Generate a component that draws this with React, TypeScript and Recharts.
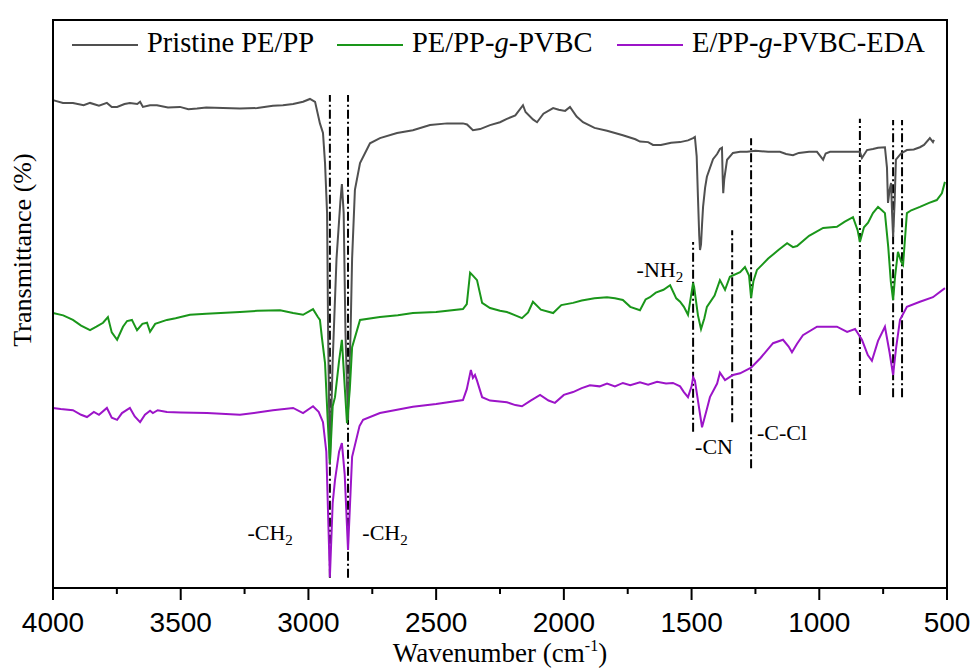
import { LineChart, Line, XAxis, YAxis, ReferenceLine, ReferenceDot } from "recharts";

// wavenumber (cm-1), transmittance (a.u., offset spectra)
const pristine: [number, number][] = [
  [4000, 85.9], [3961, 85.4], [3922, 85.4], [3880, 85.0], [3855, 85.4], [3820, 84.9],
  [3789, 85.4], [3770, 84.7], [3749, 84.7], [3720, 85.2], [3699, 85.4], [3670, 85.2],
  [3659, 85.6], [3648, 84.7], [3620, 85.0], [3593, 85.0], [3550, 84.6], [3503, 84.7],
  [3470, 84.3], [3436, 84.4], [3400, 84.6], [3334, 84.5], [3268, 84.4], [3200, 84.5],
  [3139, 84.9], [3100, 85.0], [3060, 85.2], [3021, 85.6], [2994, 86.1], [2974, 85.6],
  [2955, 81.8], [2943, 80.1], [2935, 74.8], [2927, 66.0], [2923, 45.0], [2916, 21.7],
  [2905, 40.0], [2890, 58.0], [2875, 68.0], [2869, 71.1], [2862, 66.0], [2855, 45.0],
  [2845, 29.6], [2835, 45.0], [2829, 58.0], [2818, 70.1], [2798, 74.8], [2759, 78.3],
  [2720, 79.2], [2653, 80.1], [2591, 80.6], [2524, 81.5], [2457, 81.8], [2395, 81.8],
  [2379, 81.6], [2356, 80.6], [2328, 80.8], [2289, 81.5], [2250, 82.0], [2223, 82.6],
  [2190, 83.2], [2160, 85.0], [2150, 83.8], [2121, 82.5], [2105, 82.0], [2080, 83.5],
  [2042, 84.5], [2020, 84.2], [1995, 84.0], [1976, 84.7], [1950, 83.0], [1925, 82.0],
  [1880, 81.0], [1831, 80.5], [1769, 79.7], [1720, 79.0], [1702, 78.6], [1670, 78.5],
  [1651, 78.0], [1620, 78.0], [1580, 78.4], [1545, 78.5], [1514, 78.8], [1494, 79.2],
  [1487, 79.4], [1480, 76.0], [1475, 68.8], [1470, 62.0], [1467, 59.5], [1463, 60.5],
  [1459, 64.0], [1455, 67.1], [1447, 70.5], [1440, 72.4], [1416, 75.5], [1400, 76.4],
  [1389, 77.3], [1381, 77.5], [1378, 72.0], [1376, 69.5], [1372, 72.0], [1361, 75.4],
  [1338, 76.6], [1310, 76.8], [1283, 76.8], [1250, 77.0], [1200, 76.8], [1154, 76.8],
  [1130, 76.4], [1103, 76.2], [1080, 76.6], [1040, 76.8], [1009, 76.8], [995, 76.0],
  [985, 75.4], [975, 76.5], [958, 76.8], [920, 76.8], [880, 76.8], [841, 76.8],
  [833, 75.7], [813, 77.1], [790, 77.3], [770, 77.5], [743, 77.6], [735, 74.0],
  [731, 67.8], [725, 70.0], [719, 71.3], [715, 66.0], [711, 61.8], [705, 68.0],
  [700, 75.4], [680, 76.5], [657, 77.1], [630, 77.2], [606, 77.6], [590, 78.0],
  [567, 79.2], [555, 78.5], [551, 78.9],
];

const grafted: [number, number][] = [
  [4000, 48.4], [3960, 48.0], [3922, 47.2], [3890, 46.2], [3855, 45.4], [3830, 46.0],
  [3804, 46.7], [3785, 47.7], [3770, 45.0], [3749, 43.7], [3726, 46.0], [3710, 47.0],
  [3691, 47.2], [3680, 46.2], [3671, 45.4], [3650, 46.5], [3632, 46.7], [3620, 45.1],
  [3600, 46.5], [3554, 47.2], [3520, 47.5], [3464, 48.1], [3400, 48.3], [3268, 48.6],
  [3200, 48.8], [3111, 48.9], [3060, 48.4], [3021, 48.1], [2994, 48.8], [2982, 49.1],
  [2963, 47.7], [2955, 47.2], [2947, 44.0], [2935, 39.6], [2925, 30.0], [2916, 22.0],
  [2905, 32.0], [2896, 33.6], [2880, 40.0], [2869, 43.7], [2860, 37.0], [2849, 29.0],
  [2838, 35.0], [2829, 42.4], [2798, 47.2], [2720, 47.7], [2650, 48.0], [2591, 48.4],
  [2500, 48.6], [2395, 49.1], [2380, 50.0], [2367, 55.5], [2356, 55.0], [2340, 54.2],
  [2320, 50.2], [2289, 49.3], [2250, 48.8], [2223, 48.6], [2190, 48.0], [2164, 47.5],
  [2140, 48.5], [2121, 50.4], [2090, 49.0], [2042, 48.4], [2010, 49.8], [1964, 50.2],
  [1930, 50.6], [1880, 51.0], [1831, 51.2], [1800, 51.0], [1769, 50.7], [1740, 49.5],
  [1702, 48.9], [1680, 50.8], [1663, 51.2], [1640, 52.0], [1610, 52.5], [1584, 53.3],
  [1560, 51.0], [1545, 50.4], [1530, 49.5], [1514, 48.1], [1494, 53.7], [1490, 53.0],
  [1475, 48.0], [1463, 45.6], [1450, 47.5], [1440, 49.5], [1410, 51.5], [1389, 54.2],
  [1369, 52.5], [1350, 54.8], [1310, 55.6], [1291, 56.5], [1275, 55.0], [1267, 51.1],
  [1258, 54.0], [1244, 56.0], [1200, 58.0], [1160, 59.5], [1126, 60.7], [1103, 60.0],
  [1087, 60.2], [1040, 62.0], [985, 63.4], [931, 63.6], [900, 64.5], [868, 65.3],
  [850, 63.0], [841, 60.9], [825, 63.5], [809, 64.3], [790, 66.0], [770, 67.1],
  [755, 66.5], [743, 66.0], [730, 60.0], [720, 54.0], [711, 50.7], [703, 55.0],
  [692, 59.2], [680, 57.5], [672, 56.9], [657, 66.0], [640, 66.5], [606, 67.1],
  [570, 67.8], [540, 68.3], [520, 69.5], [508, 71.5],
];

const aminated: [number, number][] = [
  [4000, 31.7], [3970, 31.5], [3922, 31.3], [3890, 30.5], [3867, 30.1], [3840, 31.0],
  [3820, 30.5], [3789, 31.7], [3770, 30.0], [3749, 29.6], [3730, 30.8], [3699, 31.7],
  [3680, 30.2], [3659, 29.2], [3640, 30.5], [3620, 31.2], [3609, 30.8], [3590, 31.3],
  [3554, 31.0], [3500, 30.9], [3397, 30.8], [3268, 30.5], [3200, 30.9], [3139, 31.3],
  [3060, 31.7], [3021, 30.8], [2982, 32.0], [2960, 31.0], [2943, 29.2], [2930, 24.0],
  [2916, 1.9], [2905, 15.0], [2896, 19.0], [2880, 24.0], [2869, 25.5], [2858, 20.0],
  [2845, 6.7], [2835, 17.0], [2829, 23.1], [2800, 28.5], [2786, 29.6], [2720, 30.8],
  [2591, 31.9], [2500, 32.4], [2395, 33.1], [2380, 35.0], [2364, 38.4], [2356, 37.0],
  [2348, 37.5], [2340, 36.5], [2320, 33.6], [2289, 33.0], [2223, 32.7], [2190, 32.2],
  [2164, 32.0], [2130, 33.0], [2093, 34.0], [2060, 33.0], [2035, 32.6], [2000, 34.0],
  [1964, 34.5], [1930, 35.2], [1898, 35.7], [1860, 35.5], [1831, 36.0], [1800, 35.5],
  [1769, 36.1], [1740, 35.7], [1702, 36.2], [1670, 35.8], [1635, 36.3], [1600, 36.0],
  [1573, 36.1], [1545, 35.5], [1530, 34.5], [1514, 33.6], [1500, 35.5], [1494, 37.1],
  [1487, 36.5], [1475, 33.0], [1459, 28.3], [1440, 31.5], [1428, 33.6], [1400, 36.0],
  [1389, 37.9], [1369, 36.6], [1338, 37.5], [1310, 37.8], [1267, 38.8], [1230, 40.5],
  [1181, 43.1], [1142, 43.7], [1120, 42.5], [1107, 41.5], [1087, 43.0], [1064, 44.5],
  [1009, 46.0], [985, 46.0], [931, 46.0], [891, 45.1], [860, 45.6], [833, 43.7],
  [810, 41.0], [794, 40.0], [770, 43.5], [743, 46.0], [725, 41.5], [711, 37.5],
  [700, 42.0], [684, 47.2], [657, 49.5], [606, 50.4], [555, 51.2], [508, 52.8],
];

const seriesNames = ["Pristine PE/PP", "PE/PP-g-PVBC", "E/PP-g-PVBC-EDA"];
const seriesColors = ["#505050", "#1a961a", "#9c14c8"];
const seriesData = [pristine, grafted, aminated];

// dash-dot marker lines: wavenumber, lower end, upper end
const markerWn = [2916, 2845, 1494, 1341, 1267, 841, 711, 676];
const markerLow = [1.8, 1.8, 27.5, 29.2, 21.1, 34.0, 33.6, 33.6];
const markerHigh = [86.8, 86.8, 60.9, 63.0, 79.2, 82.6, 82.4, 82.4];

// peak labels: main text, subscript, wavenumber, height
const peakText = ["-CH", "-CH", "-NH", "-CN", "-C-Cl"];
const peakSub = ["2", "2", "2", "", ""];
const peakWn = [3150, 2700, 1624, 1412, 1146];
const peakVal = [9.7, 9.7, 56.0, 24.8, 27.3];

const xTicks = [4000, 3750, 3500, 3250, 3000, 2750, 2500, 2250, 2000, 1750, 1500, 1250, 1000, 750, 500];

const W = 975;
const H = 671;
const margin = { top: 20, right: 28, bottom: 0, left: 0 };
const yAxisWidth = 53;
const xAxisHeight = 83;

const serif = "'Liberation Serif', 'Times New Roman', serif";
const sans = "'Liberation Sans', Arial, sans-serif";

const XTick = (props: any) => {
  const { x, y, payload } = props;
  const major = payload.value % 500 === 0;
  return (
    <g>
      <line x1={x} x2={x} y1={y} y2={y + (major ? 12 : 6)} stroke="#000" strokeWidth={2} />
      {major && (
        <text x={x} y={y + 44} textAnchor="middle" fontFamily={sans} fontSize={28} fill="#000">
          {payload.value}
        </text>
      )}
    </g>
  );
};

const LegendName = ({ name }: { name: string }) => {
  const parts = name.split("-g-");
  if (parts.length < 2) return <>{name}</>;
  return (
    <>
      {parts[0]}-<i>g</i>-{parts[1]}
    </>
  );
};

const legendX = [72, 337, 617];

export default function App() {
  const plotX = margin.left + yAxisWidth;
  const plotW = W - margin.left - margin.right - yAxisWidth;
  const plotH = H - margin.top - margin.bottom - xAxisHeight;
  return (
    <div style={{ position: "fixed", left: 0, top: 0, width: W, height: H, background: "#fff" }}>
      <LineChart width={W} height={H} margin={margin}>
        <XAxis
          dataKey="wn"
          type="number"
          domain={[500, 4000]}
          reversed
          ticks={xTicks}
          interval={0}
          height={xAxisHeight}
          tickSize={0}
          tickMargin={0}
          tickLine={false}
          tick={XTick}
          axisLine={{ stroke: "#000", strokeWidth: 2 }}
          label={(p: any) => (
            <text x={500} y={662} textAnchor="middle" fontFamily={serif} fontSize={27} fill="#000">
              Wavenumber (cm
              <tspan dy={-11} fontSize={16}>-1</tspan>
              <tspan dy={11}>)</tspan>
            </text>
          )}
        />
        <YAxis
          type="number"
          domain={[0, 100]}
          width={yAxisWidth}
          tick={false}
          tickLine={false}
          axisLine={{ stroke: "#000", strokeWidth: 2 }}
          label={(p: any) => (
            <text
              transform="translate(31,250) rotate(-90)"
              textAnchor="middle"
              fontFamily={serif}
              fontSize={26}
              fill="#000"
            >
              Transmittance (%)
            </text>
          )}
        />
        {markerWn.map((wn, i) => (
          <ReferenceLine
            key={"m" + i}
            segment={[
              { x: wn, y: markerLow[i] },
              { x: wn, y: markerHigh[i] },
            ]}
            stroke="#000"
            strokeWidth={2}
            strokeDasharray="9 3 2 3"
          />
        ))}
        {seriesData.map((d, i) => (
          <Line
            key={seriesNames[i]}
            data={d.map(([wn, val]) => ({ wn, val }))}
            dataKey="val"
            name={seriesNames[i]}
            stroke={seriesColors[i]}
            strokeWidth={2}
            dot={false}
            type="linear"
            isAnimationActive={false}
          />
        ))}
        {peakText.map((t, i) => (
          <ReferenceDot
            key={"p" + i}
            x={peakWn[i]}
            y={peakVal[i]}
            r={1}
            fill="none"
            stroke="none"
            label={(p: any) => {
              const vb = p.viewBox || {};
              const cx = (vb.x || 0) + (vb.width || 0) / 2;
              const cy = (vb.y || 0) + (vb.height || 0) / 2;
              return (
                <text x={cx} y={cy + 7} textAnchor="middle" fontFamily={serif} fontSize={22} fill="#000">
                  {t}
                  {peakSub[i] && (
                    <tspan dy={5} fontSize={15}>
                      {peakSub[i]}
                    </tspan>
                  )}
                </text>
              );
            }}
          />
        ))}
      </LineChart>
      {/* plot frame (top and right edges) */}
      <div
        style={{
          position: "absolute",
          left: plotX - 1,
          top: margin.top - 1,
          width: plotW + 2,
          height: plotH + 2,
          boxSizing: "border-box",
          borderTop: "2px solid #000",
          borderRight: "2px solid #000",
          pointerEvents: "none",
        }}
      />
      {/* legend */}
      <svg width={W} height={70} style={{ position: "absolute", left: 0, top: 0, pointerEvents: "none" }}>
        {seriesNames.map((n, i) => (
          <line
            key={n}
            x1={legendX[i]}
            x2={legendX[i] + 66}
            y1={45}
            y2={45}
            stroke={seriesColors[i]}
            strokeWidth={2}
          />
        ))}
      </svg>
      {seriesNames.map((n, i) => (
        <div
          key={n}
          style={{
            position: "absolute",
            left: legendX[i] + 75,
            top: 27,
            fontFamily: serif,
            fontSize: 28.5,
            lineHeight: "32px",
            whiteSpace: "nowrap",
            color: "#000",
          }}
        >
          <LegendName name={n} />
        </div>
      ))}
    </div>
  );
}
